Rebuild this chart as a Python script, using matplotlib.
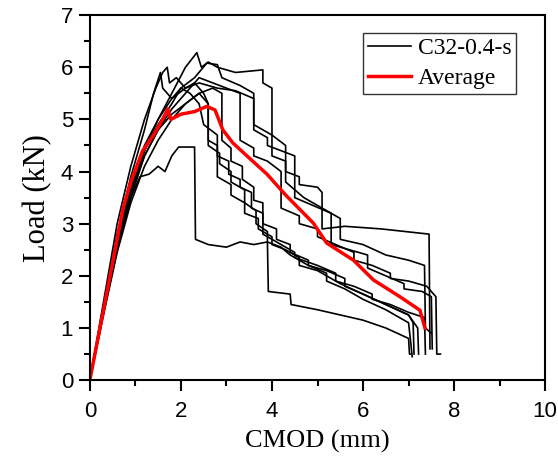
import matplotlib.pyplot as plt
from matplotlib.ticker import MultipleLocator

# CMOD (mm), load (kN) for each specimen
spec_1 = [(0, 0), (0.3, 1.5), (0.6, 3.0), (0.9, 4.1), (1.2, 5.0), (1.45, 5.6), (1.6, 5.9), (1.7, 6.0),
          (1.75, 5.7), (1.9, 5.8), (2.1, 5.6), (2.3, 5.7), (2.5, 5.5), (2.6, 5.3), (2.6, 4.6), (2.8, 4.5),
          (2.8, 4.3), (3.05, 4.2), (3.05, 3.95), (3.3, 3.85), (3.3, 3.7), (3.55, 3.6), (3.55, 3.3), (3.8, 3.2),
          (3.8, 3.0), (4.1, 2.9), (4.1, 2.7), (4.4, 2.6), (4.4, 2.45), (4.8, 2.3), (4.8, 2.2), (5.2, 2.1),
          (5.6, 1.95), (5.6, 1.8), (6.0, 1.65), (6.5, 1.45), (7.0, 1.25), (7.1, 1.1), (7.12, 0.5)]
spec_2 = [(0, 0), (0.3, 1.4), (0.6, 2.8), (0.9, 3.9), (1.2, 4.8), (1.4, 5.5), (1.55, 5.9), (1.6, 5.6),
          (1.8, 5.4), (2.0, 5.6), (2.2, 5.5), (2.4, 5.3), (2.5, 4.9), (2.8, 4.7), (2.8, 3.9), (3.1, 3.75),
          (3.1, 3.55), (3.4, 3.4), (3.4, 3.2), (3.7, 3.1), (3.7, 2.9), (4.0, 2.75), (4.0, 2.6), (4.3, 2.5),
          (4.6, 2.35), (4.6, 2.2), (5.0, 2.1), (5.5, 1.85), (6.0, 1.65), (6.5, 1.45), (7.0, 1.25),
          (7.2, 1.0), (7.22, 0.5)]
spec_3 = [(0, 0), (0.3, 1.3), (0.6, 2.6), (0.9, 3.6), (1.2, 4.4), (1.5, 5.0), (1.8, 5.5), (2.1, 6.0),
          (2.35, 6.28), (2.45, 6.0), (2.6, 6.1), (2.8, 6.0), (3.2, 5.9), (3.8, 5.95), (3.8, 5.7), (4.0, 5.6),
          (4.0, 4.3), (4.3, 4.2), (4.3, 4.0), (4.6, 3.9), (4.6, 3.75), (5.0, 3.7), (5.1, 3.6), (5.1, 2.9),
          (5.6, 2.95), (6.4, 2.9), (7.45, 2.8), (7.47, 0.6)]
spec_4 = [(0, 0), (0.3, 1.3), (0.6, 2.6), (0.9, 3.6), (1.2, 4.4), (1.5, 4.9), (1.8, 5.3), (2.0, 5.6),
          (2.3, 5.8), (2.57, 6.08), (2.8, 6.05), (2.9, 5.8), (3.3, 5.65), (3.6, 5.5), (3.6, 4.8), (3.9, 4.65),
          (3.9, 4.5), (4.2, 4.4), (4.5, 4.3), (4.5, 3.5), (4.9, 3.35), (5.3, 3.2), (5.3, 2.6), (5.7, 2.5),
          (6.1, 2.4), (6.1, 2.15), (6.5, 2.0), (6.9, 1.85), (6.9, 1.75), (7.3, 1.7), (7.5, 1.6), (7.52, 0.6)]
spec_5 = [(0, 0), (0.3, 1.3), (0.6, 2.5), (0.9, 3.5), (1.2, 4.3), (1.5, 4.8), (1.8, 5.2), (2.1, 5.5),
          (2.4, 5.8), (2.7, 5.7), (3.0, 5.6), (3.3, 5.5), (3.3, 4.6), (3.6, 4.45), (3.6, 4.3), (3.9, 4.2),
          (4.2, 4.0), (4.2, 3.3), (4.6, 3.15), (4.6, 3.0), (5.0, 2.9), (5.0, 2.75), (5.4, 2.6), (5.8, 2.45),
          (5.8, 2.3), (6.2, 2.2), (6.6, 2.05), (6.6, 1.95), (7.0, 1.9), (7.4, 1.8), (7.6, 1.6), (7.62, 0.5),
          (7.7, 0.5)]
spec_6 = [(0, 0), (0.3, 1.25), (0.6, 2.45), (0.9, 3.4), (1.2, 4.1), (1.5, 4.6), (1.8, 5.0), (2.1, 5.3),
          (2.4, 5.5), (2.7, 5.6), (2.9, 5.5), (2.9, 4.6), (3.1, 4.45), (3.1, 4.2), (3.35, 4.1), (3.35, 3.85),
          (3.6, 3.7), (3.6, 3.45), (3.8, 3.4), (3.8, 2.8), (4.1, 2.65), (4.5, 2.45), (4.5, 2.35), (5.0, 2.2),
          (5.4, 2.05), (5.4, 1.9), (5.8, 1.8), (6.2, 1.65), (6.2, 1.55), (6.6, 1.45), (7.0, 1.3),
          (7.35, 1.2), (7.37, 0.5)]
spec_7 = [(0, 0), (0.3, 1.3), (0.6, 2.6), (0.9, 3.6), (1.2, 4.3), (1.5, 4.8), (1.8, 5.1), (2.1, 5.3),
          (2.4, 5.5), (2.6, 5.3), (2.6, 4.5), (2.85, 4.35), (2.85, 4.15), (3.1, 4.0), (3.1, 3.8), (3.4, 3.65),
          (3.4, 3.4), (3.65, 3.25), (3.65, 3.0), (3.9, 2.85), (3.9, 2.65), (4.2, 2.55), (4.4, 2.4),
          (4.8, 2.2), (5.2, 2.05), (5.2, 1.9), (5.6, 1.75), (6.0, 1.55), (6.5, 1.35), (7.0, 1.1),
          (7.05, 0.7), (7.08, 0.45)]
spec_8 = [(0, 0), (0.3, 1.35), (0.6, 2.7), (0.9, 3.7), (1.2, 4.5), (1.5, 5.0), (1.8, 5.4), (2.1, 5.6),
          (2.4, 5.7), (2.8, 5.6), (3.2, 5.55), (3.6, 5.4), (3.6, 4.9), (4.0, 4.7), (4.3, 4.5), (4.3, 3.8),
          (4.7, 3.5), (5.1, 3.3), (5.5, 3.1), (5.5, 2.7), (6.0, 2.6), (6.5, 2.4), (7.0, 2.3), (7.35, 2.2),
          (7.37, 1.0), (7.5, 0.9)]
spec_9 = [(0, 0), (0.3, 1.3), (0.6, 2.5), (0.9, 3.5), (1.1, 3.9), (1.3, 3.95), (1.5, 4.1), (1.65, 4.0),
          (1.8, 4.3), (1.95, 4.47), (2.3, 4.47), (2.32, 2.7), (2.6, 2.6), (3.0, 2.55), (3.3, 2.65),
          (3.6, 2.6), (3.9, 2.65), (3.92, 1.7), (4.4, 1.65), (4.42, 1.45), (5.0, 1.35), (5.5, 1.25),
          (6.0, 1.15), (6.5, 1.0), (7.0, 0.8), (7.02, 0.5), (7.05, 0.5)]
specimens = [spec_1, spec_2, spec_3, spec_4, spec_5, spec_6, spec_7, spec_8, spec_9]

avg_x = [0, 0.2, 0.4, 0.6, 0.73, 0.9, 1.16, 1.4, 1.6, 1.71, 1.78, 2.0, 2.3, 2.57, 2.75, 2.92, 3.14,
         3.45, 3.89, 4.3, 4.91, 5.2, 5.79, 6.23, 6.81, 7.25, 7.36]
avg_y = [0, 0.9, 1.8, 2.7, 3.3, 3.8, 4.4, 4.7, 5.0, 5.2, 5.0, 5.1, 5.15, 5.25, 5.18, 4.8, 4.55,
         4.3, 3.95, 3.55, 3.01, 2.63, 2.3, 1.92, 1.6, 1.34, 1.0]

fig = plt.figure(figsize=(5.58, 4.58), dpi=100)
ax = fig.add_axes([0.161, 0.170, 0.816, 0.797])

for i, spec in enumerate(specimens):
    xs = [p[0] for p in spec]
    ys = [p[1] for p in spec]
    ax.plot(xs, ys, color='black', lw=1.2, label='C32-0.4-s' if i == 0 else None)
ax.plot(avg_x, avg_y, color='red', lw=2.5, label='Average')

ax.set_xlim(0, 10)
ax.set_ylim(0, 7)
ax.xaxis.set_major_locator(MultipleLocator(2))
ax.xaxis.set_minor_locator(MultipleLocator(1))
ax.yaxis.set_major_locator(MultipleLocator(1))
ax.yaxis.set_minor_locator(MultipleLocator(0.5))
ax.tick_params(which='both', direction='out', top=False, right=False, width=1.5,
               labelsize=16, labelfontfamily='Liberation Sans')
ax.tick_params(which='major', length=8)
ax.tick_params(which='minor', length=4.5)
ax.tick_params(axis='x', which='major', pad=7)
ax.tick_params(axis='y', which='major', pad=4)
for s in ax.spines.values():
    s.set_linewidth(1.5)

ax.set_xlabel('CMOD (mm)', family='Liberation Serif', fontsize=19, labelpad=6)
ax.set_ylabel('Load (kN)', family='Liberation Serif', fontsize=22, labelpad=6)

leg = ax.legend(loc='upper right', bbox_to_anchor=(0.936, 0.951), borderaxespad=0,
                prop={'family': 'Liberation Serif', 'size': 17},
                frameon=True, fancybox=False, edgecolor='black', handlelength=1.8,
                handletextpad=0.3, labelspacing=0.35, borderpad=0.2)
leg.get_frame().set_linewidth(1.0)

fig.savefig('out.png', dpi=100)
